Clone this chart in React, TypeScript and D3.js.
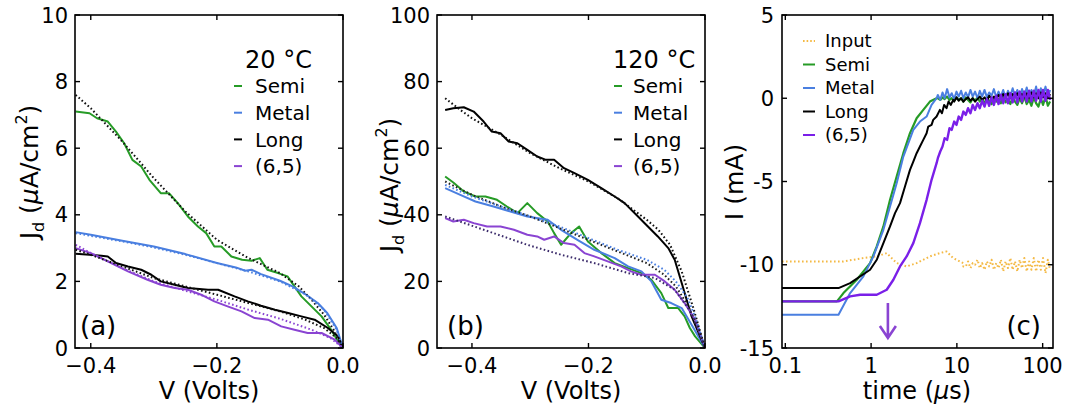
import React, { useEffect, useRef } from 'react';
import * as d3 from 'd3';

const FONT = '"DejaVu Sans", "Noto Sans", sans-serif';
const GREEN = '#269b26';
const BLUE = '#4a7fe0';
const PURPLE = '#8a44d2';
const VIOLET = '#7a1fe8';
const ORANGE = '#f4b944';

const legendNames = ['Semi', 'Metal', 'Long', '(6,5)'];
const legendNamesC = ['Input', 'Semi', 'Metal', 'Long', '(6,5)'];

// (a) 20 °C : [V, J (uA/cm2)]
const semiA = [[-0.424,7.1],[-0.402,7.05],[-0.39,6.9],[-0.373,6.8],[-0.36,6.5],[-0.347,6.15],[-0.334,5.65],[-0.32,5.45],[-0.307,5.05],[-0.289,4.65],[-0.276,4.65],[-0.262,4.35],[-0.246,3.95],[-0.23,3.65],[-0.217,3.45],[-0.204,3.05],[-0.193,3.05],[-0.177,2.75],[-0.16,2.65],[-0.145,2.62],[-0.132,2.7],[-0.12,2.35],[-0.103,2.25],[-0.088,2.15],[-0.077,1.85],[-0.066,1.55],[-0.05,1.25],[-0.034,0.95],[-0.019,0.55],[-0.003,0.05],[0,0]];
const semiFitA = [[-0.424,7.6],[-0.4,7.2],[-0.35,6.2],[-0.3,5.1],[-0.25,4.1],[-0.2,3.25],[-0.15,2.7],[-0.1,2.25],[-0.07,1.85],[-0.05,1.45],[-0.03,1.0],[-0.015,0.55],[0,0]];
const metalA = [[-0.424,3.48],[-0.4,3.4],[-0.35,3.22],[-0.3,3.05],[-0.25,2.82],[-0.2,2.55],[-0.17,2.42],[-0.155,2.32],[-0.145,2.35],[-0.13,2.22],[-0.1,2.02],[-0.08,1.85],[-0.06,1.62],[-0.04,1.35],[-0.025,1.05],[-0.01,0.6],[0,0]];
const metalFitA = [[-0.424,3.45],[-0.35,3.2],[-0.3,3.02],[-0.25,2.8],[-0.2,2.55],[-0.15,2.3],[-0.1,2.0],[-0.06,1.62],[-0.03,1.15],[-0.01,0.55],[0,0]];
const longA = [[-0.424,2.83],[-0.402,2.8],[-0.383,2.77],[-0.373,2.75],[-0.36,2.55],[-0.341,2.45],[-0.32,2.35],[-0.304,2.2],[-0.289,2.0],[-0.267,1.9],[-0.246,1.8],[-0.214,1.75],[-0.198,1.75],[-0.172,1.55],[-0.151,1.4],[-0.13,1.27],[-0.108,1.15],[-0.087,1.05],[-0.066,0.95],[-0.045,0.85],[-0.024,0.6],[-0.008,0.35],[0,0]];
const longFitA = [[-0.424,2.95],[-0.4,2.8],[-0.35,2.45],[-0.3,2.1],[-0.25,1.85],[-0.2,1.6],[-0.15,1.35],[-0.1,1.1],[-0.06,0.85],[-0.03,0.6],[-0.01,0.3],[0,0]];
const p65A = [[-0.424,3.0],[-0.4,2.85],[-0.373,2.6],[-0.341,2.3],[-0.31,2.05],[-0.289,1.9],[-0.267,1.8],[-0.246,1.75],[-0.225,1.6],[-0.204,1.4],[-0.183,1.25],[-0.161,1.1],[-0.14,0.9],[-0.119,0.85],[-0.098,0.65],[-0.077,0.55],[-0.056,0.45],[-0.034,0.45],[-0.013,0.25],[0,0]];
const p65FitA = [[-0.424,3.1],[-0.4,2.85],[-0.35,2.4],[-0.3,2.0],[-0.25,1.72],[-0.2,1.45],[-0.15,1.15],[-0.1,0.88],[-0.05,0.55],[-0.02,0.3],[0,0]];

// (b) 120 °C
const semiB = [[-0.446,51.5],[-0.432,49.7],[-0.414,47],[-0.394,45.5],[-0.377,45.5],[-0.357,44.5],[-0.34,42.5],[-0.322,40.5],[-0.305,43.5],[-0.288,40.5],[-0.27,38],[-0.259,34.5],[-0.247,31],[-0.23,34.5],[-0.216,36.5],[-0.201,32],[-0.178,28.5],[-0.155,25.5],[-0.132,24],[-0.109,22.5],[-0.092,20.5],[-0.075,16.5],[-0.063,12],[-0.046,12],[-0.035,9.5],[-0.026,6],[-0.017,3.5],[0,0]];
const semiFitB = [[-0.446,50],[-0.4,46],[-0.35,42.5],[-0.3,39.5],[-0.25,36],[-0.2,32.5],[-0.15,29],[-0.1,25.5],[-0.07,22],[-0.05,18.5],[-0.03,13],[-0.015,7],[0,0]];
const metalB = [[-0.446,48],[-0.42,46],[-0.394,44],[-0.363,42.5],[-0.334,41],[-0.305,39.5],[-0.27,38.5],[-0.247,35.5],[-0.219,32.5],[-0.19,29.5],[-0.155,27],[-0.132,24.5],[-0.109,23],[-0.092,20],[-0.075,14.5],[-0.058,13.5],[-0.04,12],[-0.023,7],[0,0]];
const metalFitB = [[-0.446,49],[-0.4,45.5],[-0.35,42.5],[-0.3,39.5],[-0.25,36.5],[-0.2,33],[-0.15,29.5],[-0.1,26.5],[-0.07,23.5],[-0.05,20],[-0.03,15],[-0.015,8.5],[0,0]];
const longB = [[-0.446,71.5],[-0.432,72],[-0.414,72.3],[-0.397,71],[-0.38,68],[-0.366,65],[-0.351,64.5],[-0.337,62],[-0.322,61.5],[-0.305,59.5],[-0.288,57.5],[-0.273,56.5],[-0.259,56.5],[-0.242,54],[-0.224,52.5],[-0.201,50.5],[-0.178,48],[-0.155,45.5],[-0.138,43.5],[-0.115,39.5],[-0.098,36.5],[-0.081,33.5],[-0.063,30],[-0.052,26.5],[-0.04,19.5],[-0.023,9.5],[0,0]];
const longFitB = [[-0.446,75],[-0.42,71.5],[-0.4,69],[-0.35,64],[-0.3,58.5],[-0.25,54],[-0.2,50],[-0.15,45],[-0.1,38.5],[-0.08,35.5],[-0.06,31],[-0.04,23],[-0.02,12],[0,0]];
const p65B = [[-0.446,39],[-0.432,38],[-0.414,38.5],[-0.397,37.5],[-0.374,36.5],[-0.351,36.5],[-0.328,35.5],[-0.305,34],[-0.288,33.5],[-0.276,32.5],[-0.259,33.5],[-0.242,31.5],[-0.224,31],[-0.207,28.5],[-0.19,27.5],[-0.167,26],[-0.144,24.5],[-0.127,23],[-0.109,22],[-0.086,22],[-0.069,20],[-0.052,17.5],[-0.035,13.5],[-0.017,8.5],[0,0]];
const p65FitB = [[-0.446,39.5],[-0.363,34.5],[-0.305,31],[-0.247,28],[-0.19,25.5],[-0.132,22.5],[-0.086,21],[-0.052,17.5],[-0.023,10.5],[0,0]];

// (c) transient current: [t (us), I (mA)]
const tailT = [6.0,6.4,6.8,7.2,7.7,8.2,8.7,9.3,9.9,10.5,11.2,11.9,12.7,13.5,14.4,15.3,16.3,17.4,18.5,19.7,21,22.4,23.8,25.4,27,28.8,30.6,32.6,34.7,37,39.4,42,44.7,47.6,50.7,54,57.5,61.2,65.2,69.5,74,78.8,83.9,89.4,95.2,101,108,115,122];
const inputHead = [[0.0915,-9.8],[0.476,-9.8],[0.814,-9.6],[1.164,-9.5],[1.521,-9.3],[1.987,-9.9],[2.597,-10.1],[3.395,-9.9],[4.85,-9.5],[6.34,-9.3],[7.58,-9.2],[9.06,-9.6],[11.85,-9.9]];
const inputTail = [-9.4,-9.4,-9.3,-9.3,-9.2,-9.3,-9.5,-9.6,-9.8,-9.9,-10.0,-10.1,-10.1,-9.8,-10.2,-9.9,-10.0,-9.7,-10.2,-9.9,-10.3,-9.8,-10.1,-9.7,-10.3,-9.9,-10.2,-9.7,-10.4,-9.8,-10.2,-9.6,-10.3,-9.8,-10.4,-9.7,-10.2,-9.6,-10.4,-9.8,-10.3,-9.6,-10.4,-9.7,-10.3,-9.6,-10.5,-9.7,-10.3];
const semiHead = [[0.0915,-12.2],[0.4,-12.2],[0.476,-11.7],[0.681,-10.9],[0.973,-9.9],[1.164,-8.9],[1.391,-7.7],[1.663,-6.1],[1.987,-4.7],[2.376,-3.3],[2.84,-2.1],[3.395,-1.2],[4.058,-0.7],[4.85,-0.2],[5.8,0]];
const semiTail = [0.0,-0.1,0.05,-0.05,0.1,-0.1,0.0,-0.15,0.05,-0.1,0.0,-0.2,0.05,-0.1,-0.25,0.0,-0.15,0.05,-0.2,-0.05,-0.3,0.0,-0.15,-0.35,0.05,-0.2,-0.05,-0.3,0.1,-0.25,-0.05,-0.35,0.05,-0.2,-0.4,0.0,-0.3,0.1,-0.35,-0.1,-0.45,0.05,-0.3,-0.5,0.0,-0.4,0.1,-0.45,-0.2];
const metalHead = [[0.0915,-13],[0.417,-13],[0.57,-11.7],[0.814,-10.7],[1.064,-9.5],[1.391,-7.9],[1.663,-6.5],[1.987,-5.1],[2.376,-3.5],[3.105,-1.9],[3.712,-1.4],[4.437,-1.1],[5.07,-0.4],[5.8,0]];
const metalTail = [0.2,-0.1,0.35,0.0,0.55,0.05,0.3,-0.05,0.4,0.1,0.45,0.0,0.35,0.05,0.5,0.1,0.4,0.0,0.45,0.1,0.5,0.05,0.35,0.15,0.55,0.05,0.4,0.1,0.5,0.0,0.45,0.15,0.6,0.1,0.5,0.0,0.55,0.15,0.65,0.05,0.5,0.1,0.7,0.0,0.6,0.15,0.7,0.05,0.5];
const longHead = [[0.0915,-11.4],[0.417,-11.4],[0.57,-11.1],[0.973,-10.3],[1.164,-9.7],[1.391,-8.7],[1.663,-7.7],[1.901,-6.9],[2.173,-6.3],[2.484,-5.3],[2.84,-4.3],[3.105,-3.8],[3.395,-3.3],[3.712,-2.9],[4.058,-2.5],[4.437,-2.1],[4.64,-1.7],[5.07,-1.6],[5.3,-1.3],[5.8,-1.1],[6.34,-0.7],[6.7,-0.9],[7.1,-0.4],[7.58,-0.6],[8.0,-0.2],[8.5,-0.4],[9.06,-0.1]];
const longTail = [-0.7,-0.9,-0.5,-0.6,-0.3,-0.45,-0.15,-0.2,0.05,-0.15,0.0,-0.2,-0.05,0.05,-0.15,0.0,-0.2,-0.05,0.1,-0.1,0.05,-0.15,0.15,-0.05,0.1,-0.1,0.2,0.0,0.25,0.05,0.3,0.0,0.25,0.05,0.3,0.0,0.25,0.05,0.3,0.0,0.35,0.05,0.3,0.0,0.35,0.05,0.3,0.0,0.25];
const p65Head = [[0.0915,-12.2],[0.417,-12.2],[0.57,-11.9],[0.745,-11.8],[1.164,-11.8],[1.521,-11.5],[1.818,-10.9],[2.173,-10.1],[2.597,-9.5],[3.105,-8.7],[3.712,-7.5],[4.437,-6.1],[5.07,-4.9],[5.8,-3.9]];
const p65Tail = [-3.6,-3.2,-2.9,-2.4,-2.5,-1.8,-1.9,-1.4,-1.6,-1.1,-1.3,-0.8,-1.0,-0.6,-0.9,-0.4,-0.7,-0.3,-0.6,-0.15,-0.5,-0.05,-0.45,0.05,-0.4,0.15,-0.35,0.2,-0.3,0.25,-0.3,0.3,-0.25,0.35,-0.25,0.4,-0.2,0.4,-0.2,0.45,-0.2,0.45,-0.15,0.5,-0.2,0.5,-0.15,0.5,-0.1];

const arrowT = 1.57;
const arrowI = [-12.3, -14.4];

const joinTail = (head, tail) => {
  const last = head[head.length - 1][0];
  return head.concat(tailT.map((t, i) => [t, tail[i]]).filter(d => d[0] > last));
};

const App = () => {
  const ref = useRef(null);

  useEffect(() => {
    const svg = d3.select(ref.current);
    svg.selectAll('*').remove();
    svg.style('font-family', FONT);

    const top = 15, bottom = 348;

    // frame with inward ticks on all four sides
    function frame(x, y, xTicks, yTicks, fx, fy, gapY) {
      const g = svg.append('g');
      const [x0, x1] = x.range();
      g.append('rect')
        .attr('x', x0).attr('y', top)
        .attr('width', x1 - x0).attr('height', bottom - top)
        .attr('fill', 'none').attr('stroke', '#000').attr('stroke-width', 1.6);
      xTicks.forEach(t => {
        const px = x(t);
        g.append('line').attr('x1', px).attr('x2', px).attr('y1', bottom).attr('y2', bottom - 5).attr('stroke', '#000').attr('stroke-width', 1.4);
        g.append('line').attr('x1', px).attr('x2', px).attr('y1', top).attr('y2', top + 5).attr('stroke', '#000').attr('stroke-width', 1.4);
        g.append('text').attr('x', px).attr('y', 373).attr('text-anchor', 'middle')
          .attr('font-size', 21).text(fx(t));
      });
      yTicks.forEach(t => {
        const py = y(t);
        g.append('line').attr('x1', x0).attr('x2', x0 + 5).attr('y1', py).attr('y2', py).attr('stroke', '#000').attr('stroke-width', 1.4);
        g.append('line').attr('x1', x1).attr('x2', x1 - 5).attr('y1', py).attr('y2', py).attr('stroke', '#000').attr('stroke-width', 1.4);
        g.append('text').attr('x', x0 - gapY).attr('y', py).attr('dy', '0.36em').attr('text-anchor', 'end')
          .attr('font-size', 21).text(fy(t));
      });
    }

    function clip(id, x) {
      const [x0, x1] = x.range();
      svg.append('clipPath').attr('id', id).append('rect')
        .attr('x', x0).attr('y', top).attr('width', x1 - x0).attr('height', bottom - top);
      return svg.append('g').attr('clip-path', `url(#${id})`);
    }

    function draw(g, line, data, color, dotted, width) {
      g.append('path').datum(data)
        .attr('d', line)
        .attr('fill', 'none')
        .attr('stroke', color)
        .attr('stroke-width', width || 2)
        .attr('stroke-linejoin', 'round')
        .attr('stroke-dasharray', dotted ? '1.6,2.4' : null);
    }

    function yLabel(cx, cy, parts) {
      const t = svg.append('text')
        .attr('transform', `translate(${cx},${cy}) rotate(-90)`)
        .attr('text-anchor', 'middle').attr('font-size', 25);
      parts(t);
    }

    function jdLabel(t) {
      t.append('tspan').text('J');
      t.append('tspan').attr('font-size', 16).attr('dy', 6).text('d');
      t.append('tspan').attr('dy', -6).text(' (');
      t.append('tspan').attr('font-style', 'italic').text('μ');
      t.append('tspan').text('A/cm');
      t.append('tspan').attr('font-size', 16).attr('dy', -11).text('2');
      t.append('tspan').attr('dy', 11).text(')');
    }

    function legend(x0, textX, y0, step, size, dashLen, names, colors, dotted) {
      names.forEach((n, i) => {
        const cy = y0 + i * step;
        svg.append('line').attr('x1', x0).attr('x2', x0 + dashLen).attr('y1', cy).attr('y2', cy)
          .attr('stroke', colors[i]).attr('stroke-width', 2)
          .attr('stroke-dasharray', dotted && dotted[i] ? '1.6,2' : null);
        svg.append('text').attr('x', textX).attr('y', cy).attr('dy', '0.36em')
          .attr('font-size', size).text(n);
      });
    }

    const fmtV = d => d3.format('.1f')(d);

    // ---------- (a)
    const xA = d3.scaleLinear().domain([-0.425, 0]).range([75, 343]);
    const yA = d3.scaleLinear().domain([0, 10]).range([bottom, top]);
    const lineA = d3.line().x(d => xA(d[0])).y(d => yA(d[1]));
    const gA = clip('clipA', xA);
    draw(gA, lineA, semiA, GREEN);
    draw(gA, lineA, metalA, BLUE);
    draw(gA, lineA, longA, '#000');
    draw(gA, lineA, p65A, PURPLE);
    draw(gA, lineA, semiFitA, '#111', true);
    draw(gA, lineA, metalFitA, BLUE, true);
    draw(gA, lineA, longFitA, '#111', true);
    draw(gA, lineA, p65FitA, PURPLE, true);
    frame(xA, yA, [-0.4, -0.2, 0], d3.range(0, 11, 2), fmtV, d => d, 7);
    svg.append('text').attr('x', 209).attr('y', 399).attr('text-anchor', 'middle').attr('font-size', 24).text('V (Volts)');
    yLabel(38, 172, jdLabel);
    svg.append('text').attr('x', 245).attr('y', 68).attr('font-size', 24).text('20 °C');
    legend(234, 255, 86, 26.7, 20, 8, legendNames, [GREEN, BLUE, '#000', PURPLE]);
    svg.append('text').attr('x', 80).attr('y', 335).attr('font-size', 26).text('(a)');

    // ---------- (b)
    const xB = d3.scaleLinear().domain([-0.46, 0]).range([437, 705]);
    const yB = d3.scaleLinear().domain([0, 100]).range([bottom, top]);
    const lineB = d3.line().x(d => xB(d[0])).y(d => yB(d[1]));
    const gB = clip('clipB', xB);
    draw(gB, lineB, semiB, GREEN);
    draw(gB, lineB, metalB, BLUE);
    draw(gB, lineB, longB, '#000');
    draw(gB, lineB, p65B, PURPLE);
    draw(gB, lineB, semiFitB, '#222', true);
    draw(gB, lineB, metalFitB, BLUE, true);
    draw(gB, lineB, longFitB, '#111', true);
    draw(gB, lineB, p65FitB, '#3a2a6a', true);
    frame(xB, yB, [-0.4, -0.2, 0], d3.range(0, 101, 20), fmtV, d => d, 7);
    svg.append('text').attr('x', 571).attr('y', 399).attr('text-anchor', 'middle').attr('font-size', 24).text('V (Volts)');
    yLabel(398, 185, jdLabel);
    svg.append('text').attr('x', 613).attr('y', 68).attr('font-size', 24).text('120 °C');
    legend(614, 633, 86, 26.7, 20, 8, legendNames, [GREEN, BLUE, '#000', PURPLE]);
    svg.append('text').attr('x', 447).attr('y', 335).attr('font-size', 26).text('(b)');

    // ---------- (c)
    const xC = d3.scaleLog().domain([0.0915, 132]).range([782, 1053]);
    const yC = d3.scaleLinear().domain([-15, 5]).range([bottom, top]);
    const lineC = d3.line().x(d => xC(d[0])).y(d => yC(d[1]));
    const gC = clip('clipC', xC);
    draw(gC, lineC, joinTail(inputHead, inputTail), ORANGE, true);
    draw(gC, lineC, joinTail(semiHead, semiTail), GREEN, false, 2.2);
    draw(gC, lineC, joinTail(metalHead, metalTail), BLUE, false, 2);
    draw(gC, lineC, joinTail(longHead, longTail), '#000', false, 2);
    draw(gC, lineC, joinTail(p65Head, p65Tail), VIOLET, false, 2.4);
    frame(xC, yC, [0.1, 1, 10, 100], [-15, -10, -5, 0, 5], d => (d < 1 ? '0.1' : String(d)), d => d, 8);
    svg.append('text').attr('x', 917).attr('y', 399).attr('text-anchor', 'middle').attr('font-size', 24)
      .call(t => {
        t.append('tspan').text('time (');
        t.append('tspan').attr('font-style', 'italic').text('μ');
        t.append('tspan').text('s)');
      });
    yLabel(743, 182, t => t.text('I (mA)'));
    legend(803, 825, 41, 23.5, 18, 12, legendNamesC, [ORANGE, GREEN, BLUE, '#000', VIOLET], [true]);
    svg.append('text').attr('x', 1041).attr('y', 335).attr('text-anchor', 'end').attr('font-size', 26).text('(c)');

    // arrow
    const ax = xC(arrowT), ay0 = yC(arrowI[0]), ay1 = yC(arrowI[1]);
    svg.append('path')
      .attr('d', `M${ax},${ay0}L${ax},${ay1}M${ax - 8},${ay1 - 12}L${ax},${ay1}L${ax + 8},${ay1 - 12}`)
      .attr('fill', 'none').attr('stroke', PURPLE).attr('stroke-width', 2.6);
  }, []);

  return (
    <svg ref={ref} width={1068} height={408} style={{ position: 'absolute', left: 0, top: 0, background: '#fff' }}></svg>
  );
};

export default App;
